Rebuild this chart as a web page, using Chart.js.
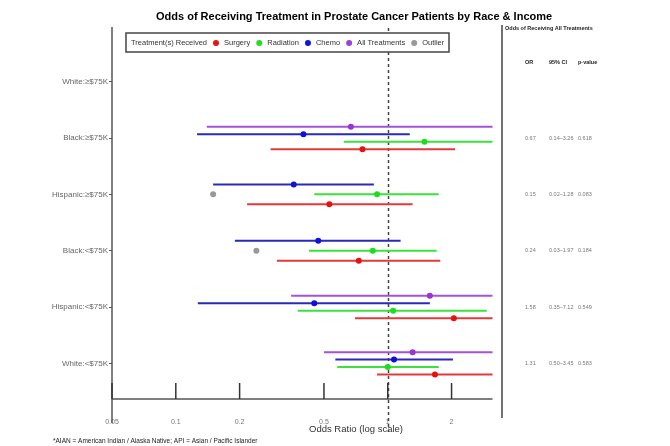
<!DOCTYPE html>
<html>
<head>
<meta charset="utf-8">
<script src="https://cdn.jsdelivr.net/npm/chart.js@4"></script>
<style>
  body { margin: 0; background: #fff; }
</style>
</head>
<body>
<canvas id="forest" width="670" height="446"></canvas>
<script>
// rows, top to bottom
const categories = ['White:≥$75K', 'Black:≥$75K', 'Hispanic:≥$75K', 'Black:<$75K', 'Hispanic:<$75K', 'White:<$75K']
const xTicks = [0.05, 0.1, 0.2, 0.5, 1, 2]

// odds ratio + CI, per row (null = not shown)
const allOR   = [null, 0.67, null, null, 1.58, 1.31]
const allLow  = [null, 0.14, null, null, 0.35, 0.50]
const allHigh = [null, 3.26, null, null, 7.12, 3.45]

const chemoOR   = [null, 0.40, 0.36, 0.47, 0.45, 1.07]
const chemoLow  = [null, 0.126, 0.150, 0.19, 0.127, 0.566]
const chemoHigh = [null, 1.27, 0.86, 1.15, 1.58, 2.03]

const radOR   = [null, 1.49, 0.89, 0.85, 1.06, 1.00]
const radLow  = [null, 0.62, 0.45, 0.425, 0.376, 0.578]
const radHigh = [null, 3.6, 1.74, 1.70, 2.93, 1.74]

const surgOR   = [null, 0.76, 0.53, 0.73, 2.05, 1.67]
const surgLow  = [null, 0.28, 0.217, 0.30, 0.70, 0.89]
const surgHigh = [null, 2.08, 1.31, 1.77, 4.5, 3.8]

// all-treatment estimates with no usable CI
const outlierOR = [null, null, 0.15, 0.24, null, null]

// right-hand table (all treatments)
const tableOR = ['', '0.67', '0.15', '0.24', '1.58', '1.31']
const tableCI = ['', '0.14–3.26', '0.02–1.28', '0.03–1.97', '0.35–7.12', '0.50–3.45']
const tableP  = ['', '0.618', '0.083', '0.184', '0.549', '0.583']

const legendNames = ['Surgery', 'Radiation', 'Chemo', 'All Treatments', 'Outlier']
const legendColors = ['#e81414', '#22dd22', '#1212d8', '#a040d8', '#999999']

// series in dodge order (top to bottom within a row)
const series = [
  { name: 'All Treatments', or: allOR, low: allLow, high: allHigh, line: '#a452d8', dot: '#9a34d4' },
  { name: 'Chemo', or: chemoOR, low: chemoLow, high: chemoHigh, line: '#2a2ab8', dot: '#1010d8' },
  { name: 'Radiation', or: radOR, low: radLow, high: radHigh, line: '#3ae23a', dot: '#1edc1e' },
  { name: 'Surgery', or: surgOR, low: surgLow, high: surgHigh, line: '#e23a3a', dot: '#e81010' }
]

const dodgeWidth = 0.53
const FONT = '"Liberation Sans", Arial, Helvetica, sans-serif'

// row position for a series after dodging among the series present in that row
function rowY(row, sIdx) {
  const present = series.map((s, k) => s.or[row] != null ? k : -1).filter(k => k >= 0)
  const n = present.length
  const pos = present.indexOf(sIdx)
  return row + (pos - (n - 1) / 2) * dodgeWidth / n
}

const datasets = []

// points first so they sit on top
series.forEach((s, k) => {
  const pts = []
  s.or.forEach((v, row) => { if (v != null) pts.push({ x: v, y: rowY(row, k) }) })
  datasets.push({ type: 'scatter', label: s.name, data: pts, backgroundColor: s.dot, borderColor: s.dot, pointRadius: 3, borderWidth: 0 })
})
datasets.push({
  type: 'scatter', label: 'Outlier',
  data: outlierOR.map((v, row) => v == null ? null : { x: v, y: row }).filter(p => p),
  backgroundColor: '#999', pointRadius: 3, borderWidth: 0
})

// CI segments
series.forEach((s, k) => {
  s.or.forEach((v, row) => {
    if (v == null) return
    const y = rowY(row, k)
    datasets.push({
      type: 'line', label: s.name + ' CI',
      data: [{ x: s.low[row], y }, { x: s.high[row], y }],
      borderColor: s.line, borderWidth: 2, pointRadius: 0, fill: false
    })
  })
})

const decor = {
  id: 'decor',
  beforeDatasetsDraw(chart) {
    const { ctx, chartArea, scales: { x } } = chart
    ctx.save()
    // reference line at OR = 1
    ctx.strokeStyle = '#444'
    ctx.lineWidth = 1.5
    ctx.setLineDash([3, 3])
    const x1 = Math.round(x.getPixelForValue(1)) + 0.5
    ctx.beginPath(); ctx.moveTo(x1, chartArea.top); ctx.lineTo(x1, chartArea.bottom + 33); ctx.stroke()
    ctx.setLineDash([])

    // axis lines
    ctx.strokeStyle = '#555'
    ctx.beginPath(); ctx.moveTo(chartArea.left, chartArea.top - 1); ctx.lineTo(chartArea.left, chartArea.bottom + 24); ctx.stroke()
    ctx.beginPath(); ctx.moveTo(chartArea.left, chartArea.bottom); ctx.lineTo(chartArea.right, chartArea.bottom); ctx.stroke()
    // upward tick marks
    ctx.strokeStyle = '#333'
    xTicks.forEach(t => {
      const px = x.getPixelForValue(t)
      ctx.beginPath(); ctx.moveTo(px, chartArea.bottom - 16); ctx.lineTo(px, chartArea.bottom); ctx.stroke()
    })
    // table divider
    ctx.strokeStyle = '#444'
    ctx.beginPath(); ctx.moveTo(502, chartArea.top - 3); ctx.lineTo(502, chartArea.bottom + 19); ctx.stroke()
    ctx.restore()
  },
  afterDraw(chart) {
    const { ctx, chartArea, scales: { y } } = chart
    ctx.save()
    // title
    ctx.fillStyle = '#000'
    ctx.font = 'bold 11px ' + FONT
    ctx.textBaseline = 'middle'
    ctx.textAlign = 'left'
    ctx.fillText('Odds of Receiving Treatment in Prostate Cancer Patients by Race & Income', 156, 17)

    // legend box
    ctx.fillStyle = '#fff'
    ctx.fillRect(126, 33, 323, 19)
    ctx.strokeStyle = '#444'
    ctx.lineWidth = 1.5
    ctx.strokeRect(126, 33, 323, 19)
    ctx.font = '7.5px ' + FONT
    ctx.fillStyle = '#333'
    let lx = 131
    ctx.fillText('Treatment(s) Received', lx, 43)
    lx += ctx.measureText('Treatment(s) Received').width + 9
    legendNames.forEach((name, i) => {
      ctx.fillStyle = legendColors[i]
      ctx.beginPath(); ctx.arc(lx, 43, 3, 0, Math.PI * 2); ctx.fill()
      lx += 8
      ctx.fillStyle = '#333'
      ctx.fillText(name, lx, 43)
      lx += ctx.measureText(name).width + 9
    })

    // axis title
    ctx.textAlign = 'center'
    ctx.font = '9.5px ' + FONT
    ctx.fillStyle = '#333'
    ctx.fillText('Odds Ratio (log scale)', 356, 429)

    // footnote
    ctx.textAlign = 'left'
    ctx.font = '6.5px ' + FONT
    ctx.fillStyle = '#222'
    ctx.fillText('*AIAN = American Indian / Alaska Native; API = Asian / Pacific Islander', 53, 441)

    // table
    ctx.font = 'bold 5.5px ' + FONT
    ctx.fillStyle = '#222'
    ctx.fillText('Odds of Receiving All Treatments', 505, 28)
    ctx.fillText('OR', 525, 62)
    ctx.fillText('95% CI', 549, 62)
    ctx.fillText('p-value', 578, 62)
    ctx.font = '5.5px ' + FONT
    ctx.fillStyle = '#777'
    categories.forEach((c, row) => {
      const py = y.getPixelForValue(row)
      ctx.fillText(tableOR[row], 525, py)
      ctx.fillText(tableCI[row], 549, py)
      ctx.fillText(tableP[row], 578, py)
    })
    ctx.restore()
  }
}

new Chart(document.getElementById('forest'), {
  data: { datasets },
  options: {
    responsive: false,
    animation: false,
    layout: { padding: { left: 0, right: 177.5, top: 28, bottom: 0 } },
    plugins: { legend: { display: false }, tooltip: { enabled: false }, title: { display: false } },
    scales: {
      x: {
        type: 'logarithmic',
        min: 0.05,
        max: 3.12,
        afterBuildTicks: scale => { scale.ticks = xTicks.map(v => ({ value: v })) },
        afterFit: scale => { scale.height = 47 },
        grid: { display: false, drawTicks: false },
        border: { display: false },
        ticks: { color: '#777', font: { size: 7, family: FONT }, padding: 19, maxRotation: 0, autoSkip: false, callback: v => String(v) }
      },
      y: {
        type: 'linear',
        reverse: true,
        min: -0.953,
        max: 5.633,
        afterBuildTicks: scale => { scale.ticks = categories.map((c, i) => ({ value: i })) },
        afterFit: scale => { scale.width = 112 },
        grid: { drawOnChartArea: false, drawTicks: true, tickLength: 3, color: '#555' },
        border: { display: false },
        ticks: { color: '#666', font: { size: 8, family: FONT }, padding: 1, callback: v => categories[v] }
      }
    }
  },
  plugins: [decor]
})
</script>
</body>
</html>
